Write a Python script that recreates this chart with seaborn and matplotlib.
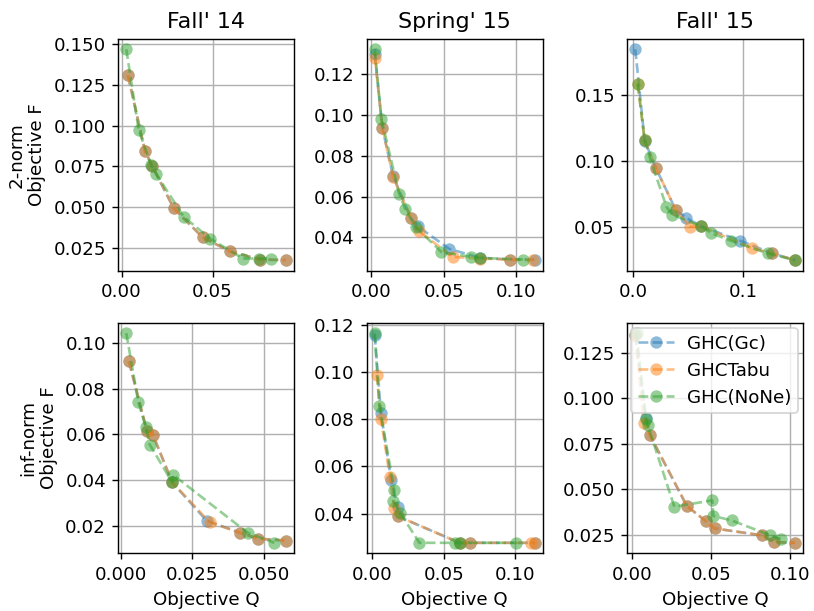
import matplotlib
matplotlib.use("Agg")
import matplotlib.pyplot as plt
import seaborn as sns
import pandas as pd

titles = ["Fall' 14", "Spring' 15", "Fall' 15"]
row_labels = ["2-norm\nObjective F", "inf-norm\nObjective F"]
series_names = ["GHC(Gc)", "GHCTabu", "GHC(NoNe)"]
colors = ["#1f77b4", "#ff7f0e", "#2ca02c"]

# ---- 2-norm, Fall'14 ----
f14_2_gc_q = [0.0035, 0.0129, 0.0169, 0.0287, 0.0445, 0.0594, 0.0759, 0.0904]
f14_2_gc_f = [0.131, 0.0844, 0.0752, 0.0492, 0.0315, 0.0229, 0.0178, 0.0174]
f14_2_tabu_q = [0.0035, 0.0129, 0.0169, 0.0287, 0.0445, 0.0594, 0.0759, 0.0904]
f14_2_tabu_f = [0.131, 0.0844, 0.0752, 0.0492, 0.0315, 0.0229, 0.0178, 0.0174]
f14_2_none_q = [0.0026, 0.0094, 0.0164, 0.0191, 0.0342, 0.0487, 0.0667, 0.0757, 0.082]
f14_2_none_f = [0.147, 0.0973, 0.0756, 0.0703, 0.044, 0.0307, 0.0184, 0.0184, 0.0184]

# ---- 2-norm, Spring'15 ----
s15_2_gc_q = [0.0023, 0.0076, 0.015, 0.0273, 0.0319, 0.0538, 0.0748, 0.0954, 0.1127]
s15_2_gc_f = [0.1298, 0.0936, 0.070, 0.0495, 0.0454, 0.0343, 0.030, 0.0291, 0.0291]
s15_2_tabu_q = [0.0025, 0.0076, 0.015, 0.0273, 0.0326, 0.0561, 0.075, 0.0954, 0.1115]
s15_2_tabu_f = [0.1278, 0.0936, 0.0695, 0.0495, 0.0431, 0.0304, 0.0296, 0.0291, 0.0288]
s15_2_none_q = [0.0023, 0.0069, 0.0192, 0.0233, 0.0307, 0.0483, 0.0688, 0.0748, 0.1046]
s15_2_none_f = [0.1322, 0.098, 0.0613, 0.054, 0.045, 0.0328, 0.0304, 0.0299, 0.0291]

# ---- 2-norm, Fall'15 ----
f15_2_gc_q = [0.0021, 0.0106, 0.0207, 0.0389, 0.0486, 0.0623, 0.0973, 0.1261, 0.1474]
f15_2_gc_f = [0.1843, 0.1155, 0.095, 0.0631, 0.0571, 0.0508, 0.040, 0.0306, 0.0253]
f15_2_tabu_q = [0.0043, 0.0106, 0.0207, 0.0389, 0.0517, 0.0623, 0.1079, 0.1261, 0.1474]
f15_2_tabu_f = [0.1583, 0.116, 0.095, 0.0631, 0.0505, 0.0508, 0.0344, 0.0306, 0.0253]
f15_2_none_q = [0.0043, 0.0106, 0.0152, 0.0304, 0.0356, 0.0623, 0.0714, 0.0891, 0.1225, 0.1474]
f15_2_none_f = [0.1583, 0.116, 0.1029, 0.0656, 0.0596, 0.0508, 0.0455, 0.040, 0.0304, 0.0253]

# ---- inf-norm, Fall'14 ----
f14_i_gc_q = [0.0028, 0.0091, 0.0112, 0.018, 0.030, 0.0417, 0.0481, 0.0578]
f14_i_gc_f = [0.092, 0.0617, 0.0599, 0.039, 0.0223, 0.017, 0.0144, 0.0136]
f14_i_tabu_q = [0.0028, 0.0091, 0.0112, 0.018, 0.0311, 0.0417, 0.0481, 0.0578]
f14_i_tabu_f = [0.092, 0.0617, 0.0599, 0.039, 0.0216, 0.017, 0.0144, 0.0136]
f14_i_none_q = [0.0019, 0.0061, 0.0087, 0.0101, 0.018, 0.0183, 0.0444, 0.0537]
f14_i_none_f = [0.1043, 0.0742, 0.0633, 0.0556, 0.039, 0.0423, 0.017, 0.0126]

# ---- inf-norm, Spring'15 ----
s15_i_gc_q = [0.0019, 0.0063, 0.0133, 0.0179, 0.0179, 0.0611, 0.0681, 0.1135]
s15_i_gc_f = [0.1158, 0.0825, 0.0543, 0.0427, 0.0389, 0.0276, 0.0276, 0.0276]
s15_i_tabu_q = [0.0033, 0.0063, 0.0126, 0.0156, 0.0179, 0.0611, 0.0681, 0.1112, 0.1135]
s15_i_tabu_f = [0.0989, 0.0799, 0.0553, 0.0422, 0.0389, 0.0276, 0.0276, 0.0276, 0.0276]
s15_i_none_q = [0.0019, 0.0051, 0.0156, 0.0149, 0.0196, 0.0331, 0.0576, 0.0611, 0.1007]
s15_i_none_f = [0.1165, 0.0856, 0.050, 0.0455, 0.0403, 0.0276, 0.0276, 0.0276, 0.0276]

# ---- inf-norm, Fall'15 ----
f15_i_gc_q = [0.0021, 0.0088, 0.0113, 0.0347, 0.0467, 0.0523, 0.0822, 0.090, 0.1031]
f15_i_gc_f = [0.1345, 0.0893, 0.0798, 0.0408, 0.0325, 0.0285, 0.0247, 0.021, 0.0206]
f15_i_tabu_q = [0.0021, 0.0075, 0.0113, 0.0347, 0.0467, 0.0523, 0.0822, 0.090, 0.1031]
f15_i_tabu_f = [0.1345, 0.0865, 0.0798, 0.0408, 0.0325, 0.0285, 0.0247, 0.021, 0.0206]
f15_i_none_q = [0.0029, 0.0088, 0.010, 0.0268, 0.0508, 0.0515, 0.063, 0.0875, 0.0941]
f15_i_none_f = [0.1356, 0.0887, 0.085, 0.0404, 0.0439, 0.0353, 0.0329, 0.0247, 0.0228]

panels = [
    [[(f14_2_gc_q, f14_2_gc_f), (f14_2_tabu_q, f14_2_tabu_f), (f14_2_none_q, f14_2_none_f)],
     [(s15_2_gc_q, s15_2_gc_f), (s15_2_tabu_q, s15_2_tabu_f), (s15_2_none_q, s15_2_none_f)],
     [(f15_2_gc_q, f15_2_gc_f), (f15_2_tabu_q, f15_2_tabu_f), (f15_2_none_q, f15_2_none_f)]],
    [[(f14_i_gc_q, f14_i_gc_f), (f14_i_tabu_q, f14_i_tabu_f), (f14_i_none_q, f14_i_none_f)],
     [(s15_i_gc_q, s15_i_gc_f), (s15_i_tabu_q, s15_i_tabu_f), (s15_i_none_q, s15_i_none_f)],
     [(f15_i_gc_q, f15_i_gc_f), (f15_i_tabu_q, f15_i_tabu_f), (f15_i_none_q, f15_i_none_f)]],
]

plt.rcParams['font.family'] = ['DejaVu Sans']
plt.rcParams['font.size'] = 10.3
plt.rcParams['axes.titlesize'] = 12.5
W, H = 814, 611
dpi = 127.3
fig, axes = plt.subplots(2, 3, figsize=(W / dpi, H / dpi), dpi=dpi)

# axes boxes in pixels: left, right for columns; top, bottom for rows
col_px = [(118.3, 294.0), (366.7, 542.7), (627.3, 803.0)]
row_px = [(38.7, 270.7), (322.7, 553.3)]

for r in range(2):
    for c in range(3):
        ax = axes[r, c]
        x0, x1 = col_px[c]
        y0, y1 = row_px[r]
        ax.set_position([x0 / W, 1 - y1 / H, (x1 - x0) / W, (y1 - y0) / H])
        for s, (q, f) in enumerate(panels[r][c]):
            df = pd.DataFrame({"Q": q, "F": f})
            sns.lineplot(data=df, x="Q", y="F", ax=ax, sort=False, estimator=None,
                         color=colors[s], linestyle="--", marker="o", markersize=7,
                         markeredgewidth=0, alpha=0.5, label=series_names[s])
        ax.grid(True)
        ax.set_axisbelow(True)
        if r == 0:
            ax.set_title(titles[c])
            ax.set_xlabel("")
        else:
            ax.set_xlabel("Objective Q")
        if c == 0:
            ax.set_ylabel(row_labels[r])
        else:
            ax.set_ylabel("")
        if not (r == 1 and c == 2):
            ax.get_legend().remove()
        else:
            ax.legend(loc="upper right", borderaxespad=0.3, handletextpad=0.7,
                      borderpad=0.35)

fig.savefig("out.png", dpi=dpi)
